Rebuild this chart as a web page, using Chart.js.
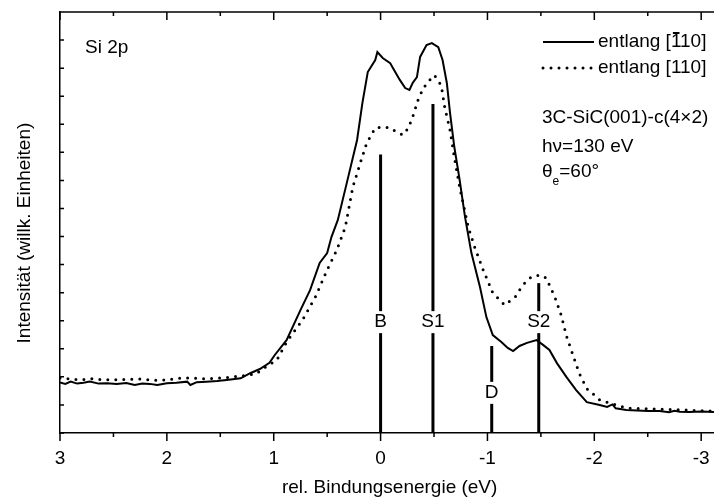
<!DOCTYPE html>
<html>
<head>
<meta charset="utf-8">
<script src="https://cdn.jsdelivr.net/npm/chart.js@4.4.1/dist/chart.umd.min.js"></script>
<style>
  html, body { margin: 0; background: #fff; }
  #wrap { width: 714px; height: 499px; }
</style>
</head>
<body>
<div id="wrap"><canvas id="chart"></canvas></div>
<script>
// rel. binding energy (eV) and intensity (arb. units)
const energySolid = [3.00, 2.95, 2.90, 2.84, 2.78, 2.72, 2.64, 2.56, 2.47, 2.38, 2.30, 2.23, 2.16, 2.09, 2.00,
  1.91, 1.81, 1.78, 1.72, 1.63, 1.53, 1.44, 1.31, 1.22, 1.13, 1.04, 0.99, 0.88, 0.75, 0.66, 0.57, 0.50, 0.46,
  0.40, 0.31, 0.22, 0.17, 0.12, 0.05, 0.03, -0.02, -0.09, -0.11, -0.18, -0.23, -0.27, -0.30, -0.34, -0.37,
  -0.43, -0.48, -0.54, -0.58, -0.62, -0.65, -0.69, -0.74, -0.79, -0.85, -0.93, -0.99, -1.05, -1.13, -1.19,
  -1.24, -1.30, -1.37, -1.46, -1.52, -1.58, -1.65, -1.74, -1.83, -1.93, -2.05, -2.12, -2.17, -2.20, -2.30,
  -2.40, -2.50, -2.61, -2.70, -2.75, -2.80, -2.89, -3.00, -3.12];
const intensSolid = [1.80, 1.75, 1.83, 1.76, 1.79, 1.83, 1.76, 1.77, 1.75, 1.78, 1.71, 1.76, 1.75, 1.71, 1.77,
  1.79, 1.83, 1.71, 1.81, 1.83, 1.85, 1.89, 1.95, 2.13, 2.28, 2.50, 2.78, 3.31, 4.38, 5.09, 6.06, 6.41, 6.98,
  7.59, 9.01, 10.44, 11.76, 12.86, 13.29, 13.57, 13.36, 13.18, 13.04, 12.58, 12.29, 12.22, 12.47, 12.68, 13.40,
  13.82, 13.89, 13.75, 13.29, 12.47, 11.40, 10.19, 9.01, 7.70, 6.41, 5.20, 4.13, 3.49, 3.24, 3.03,
  2.92, 3.10, 3.21, 3.31, 3.14, 2.96, 2.49, 1.99, 1.53, 1.10, 1.00, 0.93, 1.02, 0.88, 0.82,
  0.80, 0.78, 0.78, 0.74, 0.79, 0.76, 0.75, 0.77, 0.75];

const energyDotted = [3.00, 2.90, 2.81, 2.70, 2.60, 2.50, 2.40, 2.25, 2.10, 2.00, 1.90, 1.78, 1.65, 1.50, 1.40,
  1.31, 1.17, 1.06, 0.97, 0.88, 0.73, 0.61, 0.50, 0.41, 0.33, 0.26, 0.19, 0.13, 0.05, -0.02, -0.09, -0.15,
  -0.21, -0.26, -0.30, -0.35, -0.40, -0.46, -0.50, -0.54, -0.57, -0.60, -0.65, -0.69, -0.74, -0.82, -0.88,
  -0.96, -1.05, -1.16, -1.26, -1.33, -1.41, -1.49, -1.55, -1.63, -1.69, -1.74, -1.80, -1.86, -1.93, -1.98,
  -2.05, -2.14, -2.30, -2.61, -3.12];
const intensDotted = [1.96, 1.92, 1.89, 1.93, 1.90, 1.89, 1.91, 1.92, 1.88, 1.89, 1.95, 1.96, 1.93, 1.96, 1.99,
  2.03, 2.10, 2.39, 2.60, 3.24, 4.03, 4.85, 5.81, 6.52, 7.34, 8.76, 9.62, 10.33, 10.87, 10.90, 10.87, 10.72,
  10.62, 10.87, 11.26, 11.86, 12.29, 12.58, 12.75, 12.58, 12.33, 11.61, 10.79, 9.83, 8.76, 7.34, 6.63,
  5.81, 4.99, 4.56, 4.85, 5.27, 5.56, 5.63, 5.52, 4.85, 4.20, 3.45, 2.78, 2.12, 1.58, 1.42,
  1.18, 1.07, 0.89, 0.85, 0.78];

// component markers
const markerNames = ['B', 'S1', 'D', 'S2'];
const markerEnergy = [0, -0.49, -1.04, -1.48];
const markerTop = [9.92, 11.72, 3.10, 5.34];
const markerLabelY = [3.95, 3.95, 1.43, 3.95];

const xMajor = [3, 2, 1, 0, -1, -2, -3];
const xMinor = [2.5, 1.5, 0.5, -0.5, -1.5, -2.5];

const FONT = '"Liberation Sans", Arial, sans-serif';
Chart.defaults.font.family = FONT;
Chart.defaults.color = '#000';

const toPoints = (xs, ys) => xs.map((x, i) => ({ x: x, y: ys[i] }));

const datasets = [
  {
    label: 'entlang [-110]',
    data: toPoints(energySolid, intensSolid),
    borderColor: '#000', borderWidth: 2, pointRadius: 0, tension: 0
  },
  {
    label: 'entlang [110]',
    data: toPoints(energyDotted, intensDotted),
    borderColor: '#000', borderWidth: 3, borderDash: [0, 8], borderCapStyle: 'round',
    pointRadius: 0, tension: 0
  }
];
markerNames.forEach((name, i) => {
  datasets.push({
    label: name,
    data: [{ x: markerEnergy[i], y: 0 }, { x: markerEnergy[i], y: markerTop[i] }],
    borderColor: '#000', borderWidth: 3, borderCapStyle: 'butt', pointRadius: 0
  });
});

// inward ticks on top/left, outward on bottom, plus top frame line
const frameTicks = {
  id: 'frameTicks',
  afterDraw(chart) {
    const { ctx, chartArea: a, scales: { x, y } } = chart;
    ctx.save();
    ctx.strokeStyle = '#000';
    ctx.lineWidth = 1.5;
    ctx.beginPath();
    ctx.moveTo(a.left, a.top);
    ctx.lineTo(a.right, a.top);
    const tick = (v, len) => {
      const px = x.getPixelForValue(v);
      ctx.moveTo(px, a.bottom); ctx.lineTo(px, a.bottom + len);
      ctx.moveTo(px, a.top); ctx.lineTo(px, a.top + len);
    };
    xMajor.forEach(v => tick(v, 8));
    xMinor.forEach(v => tick(v, 4));
    y.ticks.forEach(t => {
      const py = y.getPixelForValue(t.value);
      ctx.moveTo(a.left, py); ctx.lineTo(a.left + 4, py);
    });
    ctx.stroke();
    ctx.restore();
  }
};

// marker labels, legend and sample notes
const notes = {
  id: 'notes',
  afterDatasetsDraw(chart) {
    const { ctx, scales: { x, y } } = chart;
    ctx.save();
    ctx.font = '19px ' + FONT;
    ctx.fillStyle = '#000';
    ctx.textBaseline = 'middle';

    markerNames.forEach((name, i) => {
      const px = x.getPixelForValue(markerEnergy[i]);
      const py = y.getPixelForValue(markerLabelY[i]);
      const w = ctx.measureText(name).width;
      ctx.fillStyle = '#fff';
      ctx.fillRect(px - w / 2 - 2, py - 11, w + 4, 22);
      ctx.fillStyle = '#000';
      ctx.textAlign = 'center';
      ctx.fillText(name, px, py);
    });

    ctx.textAlign = 'left';
    ctx.fillText('Si 2p', 85, 48);

    // legend
    const rows = [42, 68];
    chart.data.datasets.slice(0, 2).forEach((ds, i) => {
      ctx.save();
      ctx.strokeStyle = ds.borderColor;
      ctx.lineWidth = ds.borderWidth;
      ctx.lineCap = ds.borderCapStyle || 'butt';
      ctx.setLineDash(ds.borderDash || []);
      ctx.beginPath();
      ctx.moveTo(543, rows[i]);
      ctx.lineTo(594, rows[i]);
      ctx.stroke();
      ctx.restore();
      ctx.fillText('entlang [110]', 598, rows[i]);
    });
    // overbar on the first "1"
    const x0 = 598 + ctx.measureText('entlang [').width;
    const w1 = ctx.measureText('1').width;
    ctx.fillRect(x0 + 2, 32, w1 - 4, 2);

    ctx.fillText('3C-SiC(001)-c(4×2)', 542, 118);
    ctx.fillText('hν=130 eV', 542, 147);
    ctx.fillText('θ', 542, 172);
    const wt = ctx.measureText('θ').width;
    ctx.font = '12px ' + FONT;
    ctx.fillText('e', 542 + wt, 182);
    const we = ctx.measureText('e').width;
    ctx.font = '19px ' + FONT;
    ctx.fillText('=60°', 542 + wt + we, 172);
    ctx.restore();
  }
};

new Chart(document.getElementById('chart'), {
  type: 'line',
  data: { datasets: datasets },
  options: {
    responsive: true,
    maintainAspectRatio: false,
    animation: false,
    layout: { padding: { top: 12, right: 0, bottom: 0, left: 0 } },
    plugins: { legend: { display: false }, tooltip: { enabled: false } },
    scales: {
      x: {
        type: 'linear',
        reverse: true,
        min: -3.12,
        max: 3,
        afterBuildTicks: s => { s.ticks = xMajor.map(v => ({ value: v })); },
        afterFit: s => { s.height = 66; s.paddingLeft = 0; s.paddingRight = 0; },
        grid: { display: false, drawTicks: false },
        border: { display: true, color: '#000', width: 1.5 },
        ticks: { padding: 14, font: { size: 19 }, color: '#000', maxRotation: 0, callback: v => String(v) },
        title: { display: true, text: ' rel. Bindungsenergie (eV)', font: { size: 19 }, color: '#000', padding: { top: 0, bottom: 0 } }
      },
      y: {
        min: 0,
        max: 15,
        afterFit: s => { s.width = 60; s.paddingTop = 0; s.paddingBottom = 0; },
        grid: { display: false, drawTicks: false },
        border: { display: true, color: '#000', width: 1.5 },
        ticks: { display: false, stepSize: 1 },
        title: { display: true, text: 'Intensität (willk. Einheiten)    ', font: { size: 19 }, color: '#000', padding: { top: 13, bottom: 0 } }
      }
    }
  },
  plugins: [frameTicks, notes]
});
</script>
</body>
</html>
